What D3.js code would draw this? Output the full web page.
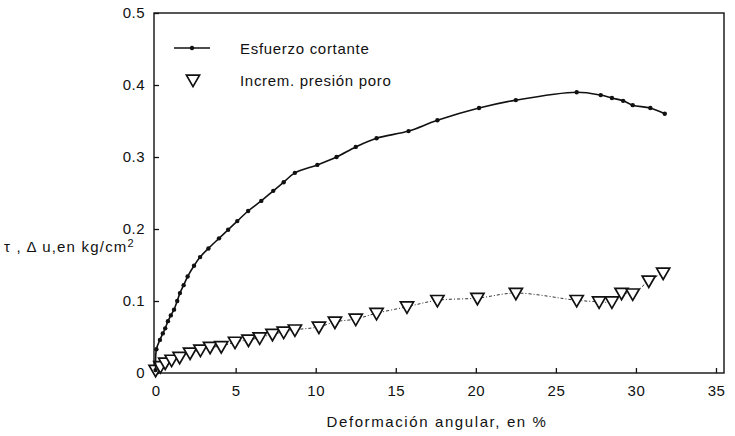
<!DOCTYPE html>
<html>
<head>
<meta charset="utf-8">
<script src="https://cdn.jsdelivr.net/npm/d3@7"></script>
<style>
  body { margin: 0; background: #fff; }
  text { font-family: "Liberation Sans", Arial, sans-serif; fill: #111; }
</style>
</head>
<body>
<div id="chart"></div>
<script>
// strain (%) and shear stress (kg/cm2)
const shearX = [0, 0.05, 0.27, 0.45, 0.6, 0.77, 0.95, 1.15, 1.35, 1.52, 1.75, 2.0, 2.4, 2.78, 3.3, 3.96, 4.53, 5.1, 5.78, 6.6, 7.35, 8.0, 8.7, 10.1, 11.3, 12.5, 13.8, 15.8, 17.6, 20.2, 22.5, 26.3, 27.8, 28.5, 29.2, 29.8, 30.9, 31.8];
const shearY = [0.004, 0.033, 0.046, 0.055, 0.062, 0.072, 0.08, 0.088, 0.1, 0.111, 0.122, 0.134, 0.149, 0.161, 0.173, 0.187, 0.199, 0.211, 0.225, 0.239, 0.253, 0.265, 0.278, 0.289, 0.3, 0.314, 0.326, 0.336, 0.351, 0.368, 0.379, 0.39, 0.386, 0.382, 0.378, 0.372, 0.368, 0.36];

// strain (%) and pore pressure increment (kg/cm2)
const poreX = [0, 0.3, 0.6, 1.0, 1.5, 2.15, 2.8, 3.4, 4.1, 4.96, 5.8, 6.5, 7.3, 8.0, 8.7, 10.2, 11.2, 12.5, 13.8, 15.7, 17.6, 20.1, 22.5, 26.3, 27.7, 28.5, 29.1, 29.8, 30.8, 31.7];
const poreY = [0.004, 0.009, 0.014, 0.018, 0.022, 0.028, 0.032, 0.036, 0.037, 0.043, 0.046, 0.049, 0.054, 0.057, 0.06, 0.064, 0.071, 0.075, 0.083, 0.092, 0.101, 0.104, 0.111, 0.101, 0.099, 0.099, 0.111, 0.11, 0.128, 0.139];

const xTicks = [0, 5, 10, 15, 20, 25, 30, 35];
const yTicks = [0, 0.1, 0.2, 0.3, 0.4, 0.5];

const width = 735, height = 436;
const plotLeft = 154, plotRight = 724, plotTop = 13, plotBottom = 373;

const x = d3.scaleLinear().domain([-0.1, 35.5]).range([plotLeft, plotRight]);
const y = d3.scaleLinear().domain([0, 0.5]).range([plotBottom, plotTop]);

const svg = d3.select("#chart").append("svg")
    .attr("width", width)
    .attr("height", height);

// frame
svg.append("rect")
    .attr("x", plotLeft).attr("y", plotTop)
    .attr("width", plotRight - plotLeft).attr("height", plotBottom - plotTop)
    .attr("fill", "none").attr("stroke", "#111").attr("stroke-width", 1.4);

const xAxis = svg.append("g")
    .attr("transform", "translate(0," + plotBottom + ")")
    .call(d3.axisBottom(x).tickValues(xTicks).tickSizeInner(-5).tickSizeOuter(0).tickPadding(12));
xAxis.select(".domain").remove();
xAxis.selectAll("line").attr("stroke", "#111").attr("stroke-width", 1.3);
xAxis.selectAll("text").style("font-size", "15px").style("letter-spacing", "0.5px").attr("font-family", null);

const yAxis = svg.append("g")
    .attr("transform", "translate(" + plotLeft + ",0)")
    .call(d3.axisLeft(y).tickValues(yTicks).tickSizeInner(-5).tickSizeOuter(0).tickPadding(9)
        .tickFormat(function(d) { return d === 0 ? "0" : d3.format(".1f")(d); }));
yAxis.select(".domain").remove();
yAxis.selectAll("line").attr("stroke", "#111").attr("stroke-width", 1.3);
yAxis.selectAll("text").style("font-size", "15px").style("letter-spacing", "0.5px").attr("font-family", null);

// axis titles
svg.append("text")
    .attr("x", 437).attr("y", 427)
    .attr("text-anchor", "middle")
    .style("font-size", "15px")
    .style("letter-spacing", "1.6px")
    .text("Deformación angular, en %");

const yTitle = svg.append("text")
    .attr("x", 4).attr("y", 252)
    .style("font-size", "15px")
    .style("letter-spacing", "1.2px");
yTitle.append("tspan").text("τ , Δ u,en kg/cm");
yTitle.append("tspan").attr("dy", -5).style("font-size", "11px").text("2");

const shear = shearX.map(function(d, i) { return [d, shearY[i]]; });
const pore = poreX.map(function(d, i) { return [d, poreY[i]]; });

const line = d3.line()
    .x(function(d) { return x(d[0]); })
    .y(function(d) { return y(d[1]); })
    .curve(d3.curveCatmullRom);

// pore pressure: dotted line + triangles
svg.append("path")
    .datum(pore)
    .attr("d", line)
    .attr("fill", "none")
    .attr("stroke", "#333")
    .attr("stroke-width", 1)
    .attr("stroke-dasharray", "3,2,1,2");

const tri = d3.symbol().type(d3.symbolTriangle).size(75);
svg.selectAll(".tri")
    .data(pore)
    .enter().append("path")
    .attr("class", "tri")
    .attr("d", tri)
    .attr("transform", function(d) { return "translate(" + x(d[0]) + "," + (y(d[1]) - 1) + ") rotate(180)"; })
    .attr("fill", "#fff")
    .attr("stroke", "#111")
    .attr("stroke-width", 1.7);

// shear stress: solid line + dots
svg.append("path")
    .datum(shear)
    .attr("d", line)
    .attr("fill", "none")
    .attr("stroke", "#111")
    .attr("stroke-width", 1.6);

svg.selectAll(".dot")
    .data(shear)
    .enter().append("circle")
    .attr("class", "dot")
    .attr("cx", function(d) { return x(d[0]); })
    .attr("cy", function(d) { return y(d[1]); })
    .attr("r", 2.2)
    .attr("fill", "#111");

// legend
const legend = svg.append("g");
legend.append("line")
    .attr("x1", 174).attr("x2", 210).attr("y1", 48).attr("y2", 48)
    .attr("stroke", "#111").attr("stroke-width", 1.6);
legend.append("circle")
    .attr("cx", 192).attr("cy", 48).attr("r", 2.2).attr("fill", "#111");
legend.append("text")
    .attr("x", 240).attr("y", 54)
    .style("font-size", "15px").style("letter-spacing", "0.7px")
    .text("Esfuerzo cortante");
legend.append("path")
    .attr("d", tri)
    .attr("transform", "translate(193,79) rotate(180)")
    .attr("fill", "#fff").attr("stroke", "#111").attr("stroke-width", 1.7);
legend.append("text")
    .attr("x", 240).attr("y", 86)
    .style("font-size", "15px").style("letter-spacing", "0.7px")
    .text("Increm. presión poro");
</script>
</body>
</html>
